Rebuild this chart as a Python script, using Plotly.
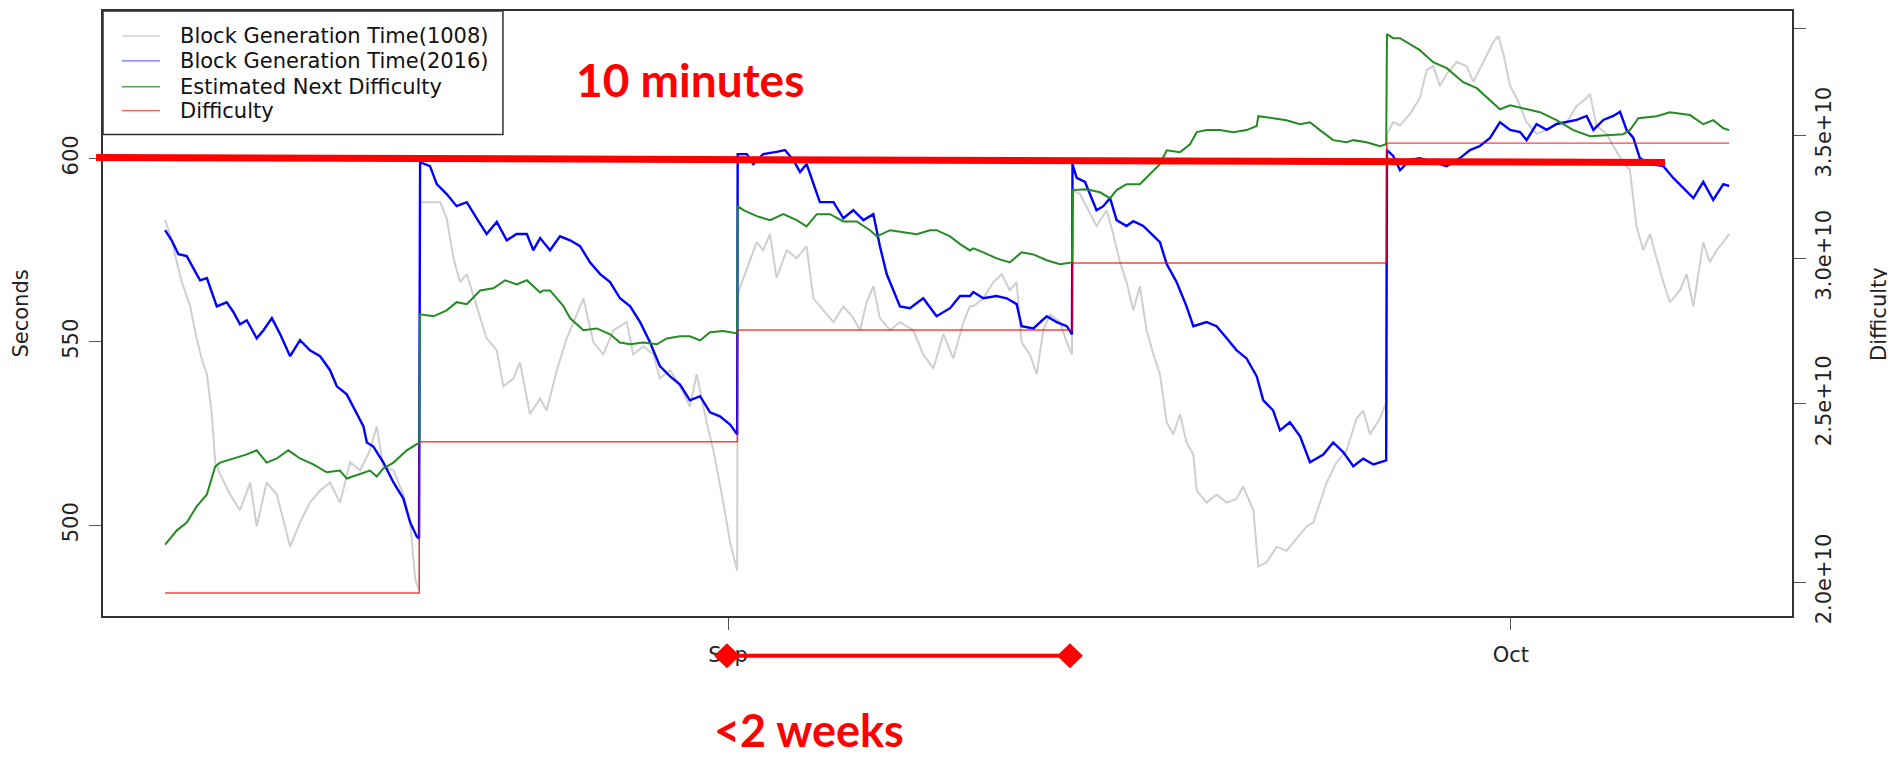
import pandas as pd
import plotly.graph_objects as go

BASE = pd.Timestamp("2014-09-01")

# ---------------- data (x = days relative to 2014-09-01) ----------------
gray_days = [-21.57, -21.38, -21.12, -20.93, -20.61, -20.36, -20.17, -19.97, -19.78, -19.65,
             -19.46, -19.08, -18.70, -18.31, -18.06, -17.68, -17.29, -16.78, -16.40, -16.02,
             -15.63, -15.25, -14.87, -14.48, -14.10, -13.72, -13.46, -13.21, -12.82, -12.44,
             -12.18, -11.99, -11.84, -11.80, -11.42, -11.03, -10.78, -10.52, -10.27, -10.01,
             -9.63, -9.25, -8.86, -8.61, -8.22, -7.97, -7.59, -7.20,
             -6.95, -6.56, -6.18, -5.93, -5.54, -5.16, -4.78, -4.39, -3.88, -3.63,
             -3.24, -2.86, -2.61, -2.22, -1.84, -1.46, -1.20, -0.82, -0.56, -0.18,
             0.08, 0.35, 0.37, 0.59, 1.10, 1.35, 1.61, 1.86, 2.25, 2.63,
             3.01, 3.27, 3.65, 4.04, 4.42, 4.80, 5.06, 5.31, 5.57, 5.82,
             6.21, 6.59, 7.10, 7.48, 7.87, 8.25, 8.63, 9.02, 9.27,
             9.40, 9.78, 10.17, 10.49, 10.80, 11.06, 11.25, 11.57, 11.83, 12.08,
             12.34, 12.72, 12.98, 13.18, 13.20, 13.49, 13.74, 14.12, 14.51, 14.76,
             15.02, 15.27, 15.53, 15.78, 16.04, 16.30, 16.55, 16.81, 17.06, 17.32,
             17.57, 17.83, 17.96, 18.34, 18.72, 19.11, 19.49, 19.74, 20.13, 20.32,
             20.64, 21.02, 21.40, 21.79, 22.17, 22.43, 22.68, 22.94, 23.32, 23.70,
             24.09, 24.34, 24.60, 24.98, 25.22, 25.25, 25.49,
             25.75, 26.13, 26.51, 26.77, 27.02, 27.28, 27.54, 27.92, 28.30, 28.56,
             28.94, 29.33, 29.52, 29.71, 29.97, 30.22, 30.60, 30.98, 31.37, 31.75,
             32.14, 32.52, 32.90, 33.03, 33.28, 33.67, 33.92, 34.30, 34.56, 34.81,
             35.07, 35.33, 35.58, 35.84, 36.09, 36.48, 36.73, 36.99, 37.37, 37.62,
             37.88, 38.14, 38.36]
gray_sec = [583.2, 579.4, 571.7, 566.3, 559.7, 551.0, 545.5, 541.2, 530.3, 517.2,
            513.9, 508.4, 504.1, 511.7, 499.7, 511.7, 508.4, 494.2, 500.8, 506.2,
            509.5, 511.7, 506.2, 517.2, 515.0, 520.4, 527.0, 516.1, 515.0, 508.4,
            500.8, 485.5, 482.2, 588.1, 588.1, 588.1, 583.7, 572.8, 566.3, 568.5,
            559.7, 551.0, 547.7, 537.9, 540.1, 544.4, 530.3, 534.6,
            531.3, 542.3, 551.0, 555.4, 561.9, 549.9, 546.6, 553.2, 555.4, 546.6,
            548.8, 546.6, 540.1, 542.3, 537.9, 532.4, 541.2, 528.1, 520.4, 506.2,
            495.3, 487.7, 563.0, 567.4, 577.2, 575.0, 579.4, 567.4, 575.0, 572.8,
            576.1, 561.9, 558.6, 555.4, 559.7, 556.5, 553.2, 560.8, 565.2, 556.5,
            553.2, 555.4, 553.2, 546.6, 542.8, 552.1, 545.5, 555.4, 559.7,
            559.7, 561.9, 566.3, 568.5, 564.1, 566.3, 549.9, 546.6, 541.2, 553.2,
            557.5, 555.4, 549.9, 546.6, 591.4, 590.3, 587.0, 581.6, 585.9, 579.4,
            571.7, 566.3, 558.6, 565.2, 553.2, 546.6, 541.2, 528.1, 524.8, 530.3,
            522.6, 519.3, 509.5, 506.2, 508.4, 506.2, 507.3, 510.6, 504.1, 488.8,
            489.9, 494.2, 493.1, 496.4, 499.7, 500.8, 506.2, 511.7, 517.2, 520.4,
            529.2, 531.3, 524.8, 529.2, 533.5, 606.7, 609.9,
            609.0, 612.1, 616.5, 624.1, 625.2, 619.8, 623.0, 626.3, 625.2, 620.9,
            626.3, 631.8, 633.4, 628.5, 619.8, 616.5, 609.9, 606.7, 607.8, 609.4,
            609.9, 614.3, 616.5, 617.6, 608.9, 606.7, 603.4, 599.0, 596.8, 581.6,
            575.0, 579.4, 572.8, 566.3, 560.8, 564.1, 568.5, 559.7, 577.2, 571.7,
            575.0, 577.2, 579.4]

blue_days = [-21.57, -21.32, -21.06, -20.74, -20.49, -20.23, -19.97, -19.59, -19.21, -18.95,
             -18.70, -18.44, -18.06, -17.80, -17.48, -17.16, -16.78, -16.40, -16.02, -15.63,
             -15.25, -14.99, -14.61, -14.23, -13.97, -13.84, -13.59, -13.21, -12.82, -12.44,
             -12.18, -11.93, -11.84, -11.80, -11.42, -11.16, -10.78, -10.40, -10.01, -9.63,
             -9.25, -8.86, -8.48, -8.10, -7.71, -7.46, -7.20,
             -6.82, -6.44, -6.05, -5.67, -5.29, -4.90, -4.52, -4.14, -3.75, -3.37,
             -2.99, -2.61, -2.22, -1.84, -1.46, -1.07, -0.69, -0.31, 0.08, 0.35,
             0.37, 0.72, 0.97, 1.35, 1.86, 2.18, 2.50, 2.76, 3.01, 3.27,
             3.52, 4.04, 4.42, 4.80, 5.19, 5.57, 5.82, 6.08, 6.33, 6.59,
             6.97, 7.48, 7.99, 8.51, 8.89, 9.27,
             9.40, 9.78, 10.29, 10.68, 11.06, 11.25, 11.70, 12.21, 12.59, 12.98,
             13.18, 13.20, 13.36, 13.68, 14.12, 14.38, 14.64, 14.89, 15.27, 15.53,
             15.91, 16.30, 16.55, 16.81, 17.19, 17.57, 17.83, 18.34, 18.72, 19.11,
             19.49, 19.87, 20.26, 20.51, 20.89, 21.15, 21.53, 21.92, 22.30, 22.81,
             23.19, 23.58, 23.96, 24.34, 24.73, 25.22, 25.25, 25.49,
             25.75, 26.13, 26.51, 27.02, 27.54, 28.05, 28.43, 28.81, 29.20, 29.58,
             29.97, 30.35, 30.60, 30.98, 31.37, 31.75, 32.14, 32.52, 32.90, 33.16,
             33.54, 33.92, 34.18, 34.43, 34.69, 34.94, 35.33, 35.84, 36.22, 36.60,
             36.99, 37.37, 37.75, 38.14, 38.36]
blue_sec = [580.5, 577.7, 573.9, 573.4, 570.1, 566.8, 567.4, 559.7, 560.8, 558.1,
            554.8, 555.9, 551.0, 553.2, 556.5, 552.1, 546.1, 550.5, 547.7, 546.1,
            542.3, 537.9, 535.7, 530.3, 527.0, 522.6, 521.5, 517.2, 511.7, 507.3,
            500.8, 497.0, 496.4, 599.0, 597.9, 593.0, 590.3, 587.0, 588.1, 583.7,
            579.4, 582.7, 577.7, 579.4, 579.4, 575.0, 578.3,
            575.0, 578.8, 577.7, 576.1, 571.7, 568.5, 566.3, 561.9, 559.7, 555.4,
            549.9, 543.4, 540.6, 538.4, 534.1, 535.2, 530.8, 529.7, 527.5, 524.8,
            601.2, 601.2, 598.5, 601.2, 601.8, 602.3, 599.6, 596.3, 598.5, 593.0,
            588.1, 588.1, 583.7, 585.9, 583.2, 584.8, 576.1, 568.5, 564.1, 559.7,
            559.2, 561.9, 557.0, 559.2, 562.5, 562.5,
            563.6, 561.9, 562.5, 561.9, 560.3, 554.3, 553.7, 557.0, 555.4, 554.3,
            552.1, 598.5, 594.7, 593.6, 585.9, 587.0, 589.2, 583.2, 581.6, 582.9,
            581.6, 578.8, 577.2, 571.2, 566.3, 559.7, 554.3, 555.4, 554.3, 551.0,
            547.7, 545.5, 540.6, 534.1, 531.3, 525.9, 528.1, 524.3, 517.2, 519.3,
            522.6, 519.9, 516.1, 518.2, 516.6, 517.7, 602.3, 600.7,
            596.8, 599.6, 600.1, 599.0, 597.9, 600.1, 602.3, 603.4, 605.6, 609.9,
            607.8, 607.2, 605.0, 609.4, 607.8, 609.4, 609.9, 610.5, 611.6, 607.8,
            610.5, 611.6, 612.7, 607.8, 605.6, 600.1, 598.5, 597.9, 594.7, 591.9,
            589.2, 593.6, 588.7, 593.0, 592.5]

green_days = [-21.57, -21.12, -20.74, -20.36, -19.97, -19.65, -19.46, -18.95, -18.44, -18.06,
              -17.68, -17.29, -16.85, -16.40, -15.89, -15.38, -14.87, -14.61, -14.10, -13.72,
              -13.46, -13.21, -12.82, -12.31, -11.83, -11.80, -11.29, -10.78, -10.40, -10.01,
              -9.50, -8.99, -8.54, -8.10, -7.71, -7.20,
              -7.08, -6.82, -6.31, -6.05, -5.54, -5.03, -4.52, -4.14, -3.75, -3.24,
              -2.73, -2.35, -1.84, -1.46, -1.07, -0.69, -0.18, 0.35, 0.37, 0.59,
              1.10, 1.61, 2.12, 2.63, 3.01, 3.40, 3.91, 4.42, 4.93, 5.44,
              5.70, 6.21, 6.72, 7.23, 7.74, 7.99, 8.51, 8.89, 9.27,
              9.40, 9.78, 10.29, 10.80, 11.25, 11.70, 12.21, 12.72, 13.18, 13.20,
              13.74, 14.25, 14.64, 14.89, 15.27, 15.78, 16.17, 16.55, 16.81, 17.32,
              17.70, 17.96, 18.34, 18.85, 19.36, 19.87, 20.26, 20.32, 20.89, 21.40,
              21.92, 22.30, 22.68, 23.19, 23.70, 23.96, 24.47, 24.98, 25.22, 25.25,
              25.49, 25.75, 26.51, 27.02, 27.54, 28.17, 28.69, 29.20, 29.58, 29.97,
              30.47, 31.11, 31.75, 32.39, 33.03, 33.67, 34.30, 34.56, 34.88, 35.58,
              36.09, 36.86, 37.37, 37.75, 38.14, 38.36]
green_diff_e10 = [2.096, 2.134, 2.155, 2.199, 2.232, 2.312, 2.323, 2.335, 2.347, 2.359,
                  2.323, 2.335, 2.359, 2.335, 2.318, 2.295, 2.300, 2.277, 2.289, 2.300,
                  2.283, 2.306, 2.323, 2.359, 2.382, 2.797, 2.790, 2.811, 2.840, 2.833,
                  2.882, 2.890, 2.919, 2.904, 2.919, 2.875,
                  2.882, 2.882, 2.826, 2.783, 2.742, 2.748, 2.728, 2.700, 2.694, 2.700,
                  2.694, 2.714, 2.721, 2.721, 2.707, 2.735, 2.739, 2.731, 3.203, 3.187,
                  3.163, 3.147, 3.171, 3.147, 3.123, 3.171, 3.171, 3.142, 3.142, 3.108,
                  3.084, 3.108, 3.100, 3.092, 3.108, 3.108, 3.084, 3.054, 3.030,
                  3.038, 3.023, 3.000, 2.985, 3.023, 3.015, 2.993, 2.978, 2.985, 3.268,
                  3.271, 3.259, 3.235, 3.268, 3.292, 3.292, 3.334, 3.376, 3.435, 3.427,
                  3.461, 3.514, 3.523, 3.523, 3.514, 3.523, 3.541, 3.585, 3.576, 3.567,
                  3.549, 3.558, 3.523, 3.479, 3.470, 3.479, 3.470, 3.453, 3.461, 3.973,
                  3.953, 3.953, 3.894, 3.836, 3.807, 3.741, 3.713, 3.658, 3.616, 3.634,
                  3.621, 3.603, 3.567, 3.523, 3.496, 3.501, 3.505, 3.523, 3.576, 3.585,
                  3.603, 3.590, 3.549, 3.567, 3.531, 3.523]

diff_days = [-21.57, -11.83, 0.36, 13.19, 25.24, 38.36]
diff_e10 = [1.9729645940, 2.3844670039, 2.7428630902, 2.9829733124, 3.4661425924, 3.4661425924]

sec_ticks = [500, 550, 600]
diff_ticks_e10 = [2.0, 2.5, 3.0, 3.5, 4.0]
diff_tick_text = ["2.0e+10", "2.5e+10", "3.0e+10", "3.5e+10", ""]
month_tick_days = [0, 30]
month_tick_text = ["Sep", "Oct"]

series_names = ["Block Generation Time(1008)", "Block Generation Time(2016)",
                "Estimated Next Difficulty", "Difficulty"]
series_colors = ["#cfcfcf", "#0000ff", "#228b22", "#ff0000"]
legend_colors = ["#d4d4d4", "#6a6aff", "#52a552", "#ff5c5c"]


def to_dates(days):
    return BASE + pd.to_timedelta(pd.Series(days, dtype=float), unit="D")


FONT = "DejaVu Sans"

fig = go.Figure()
fig.add_trace(go.Scatter(x=to_dates(gray_days), y=gray_sec, mode="lines",
                         line=dict(color=series_colors[0], width=2), name=series_names[0],
                         showlegend=False))
fig.add_trace(go.Scatter(x=to_dates(blue_days), y=blue_sec, mode="lines",
                         line=dict(color=series_colors[1], width=2.4), name=series_names[1],
                         showlegend=False))
fig.add_trace(go.Scatter(x=to_dates(green_days), y=[v * 1e10 for v in green_diff_e10],
                         mode="lines", yaxis="y2",
                         line=dict(color=series_colors[2], width=2), name=series_names[2],
                         showlegend=False))
fig.add_trace(go.Scatter(x=to_dates(diff_days), y=[v * 1e10 for v in diff_e10],
                         mode="lines", yaxis="y2", line_shape="hv",
                         line=dict(color="rgba(255,0,0,0.75)", width=1.4), name=series_names[3],
                         showlegend=False))

x_range = to_dates([-23.95, 40.77])
axis_common = dict(showline=True, linecolor="#333", linewidth=1.5, mirror=True,
                   ticks="outside", ticklen=12, tickcolor="#555", tickwidth=1.3,
                   showgrid=False, zeroline=False,
                   tickfont=dict(family=FONT, size=21, color="#222"))

# the page is shown with the browser's 8px body margin, so the figure is 8px smaller
fig.update_layout(
    width=1887, height=750,
    margin=dict(l=95, r=103, t=1, b=142),
    paper_bgcolor="white", plot_bgcolor="white",
    font=dict(family=FONT, size=21, color="#222"),
    showlegend=False,
    xaxis=dict(type="date", range=list(x_range),
               tickvals=list(to_dates(month_tick_days)), ticktext=month_tick_text,
               ticklabelstandoff=7, **axis_common),
    yaxis=dict(range=[475.3, 640.2], tickvals=sec_ticks, ticktext=[str(t) for t in sec_ticks],
               tickangle=-90, ticklabelstandoff=3, **axis_common),
    yaxis2=dict(overlaying="y", side="right", type="log",
                range=[10.2826, 10.6117],
                tickvals=[v * 1e10 for v in diff_ticks_e10], ticktext=diff_tick_text,
                tickangle=-90, showline=True, linecolor="#333", linewidth=1.5,
                ticks="outside", ticklen=12, tickcolor="#555", tickwidth=1.3,
                showgrid=False, zeroline=False,
                tickfont=dict(family=FONT, size=21, color="#222")),
)

annotations = [
    dict(text="Seconds", x=-0.0491, y=0.5, xref="paper", yref="paper", textangle=-90,
         showarrow=False, font=dict(family=FONT, size=21, color="#222"), borderpad=0,
         xanchor="center", yanchor="middle"),
    dict(text="Difficulty", x=1.0512, y=0.5, xref="paper", yref="paper", textangle=-90,
         showarrow=False, font=dict(family=FONT, size=21, color="#222"), borderpad=0,
         xanchor="center", yanchor="middle"),
    dict(text="<b>10 minutes</b>", x=0.3475, y=0.8863, xref="paper", yref="paper",
         showarrow=False, font=dict(family="Lato", size=46, color="#ff0000"),
         xanchor="center", yanchor="middle"),
    dict(text="<b>&lt;2 weeks</b>", x=0.418, y=-0.2339, xref="paper", yref="paper",
         showarrow=False, font=dict(family="Lato", size=45, color="#ff0000"), borderpad=0,
         xanchor="center", yanchor="bottom"),
]

shapes = [
    # hand-drawn "10 minutes" marker line
    dict(type="line", xref="paper", yref="paper", x0=-0.0041, y0=0.7578, x1=0.9248, y1=0.7496,
         line=dict(color="#ff0000", width=7), layer="above"),
    # "<2 weeks" bracket
    dict(type="line", xref="paper", yref="paper", x0=0.3694, y0=-0.0659, x1=0.5725, y1=-0.0659,
         line=dict(color="#ff0000", width=4), layer="above"),
]
for xp in (0.3694, 0.5725):
    shapes.append(dict(type="path", xref="paper", yref="paper", xsizemode="pixel",
                       ysizemode="pixel", xanchor=xp, yanchor=-0.0659,
                       path="M -13,0 L 0,12.5 L 13,0 L 0,-12.5 Z",
                       fillcolor="#ff0000", line=dict(width=0), layer="above"))

# legend box (top-left, as in R's legend("topleft"))
shapes.append(dict(type="rect", xref="paper", yref="paper", x0=0, x1=0.2368, y0=0.7957, y1=1.0,
                   line=dict(color="#333", width=1.5), fillcolor="white", layer="above"))
row_y = [0.9588, 0.9176, 0.8748, 0.8353]
for name, col, ry in zip(series_names, legend_colors, row_y):
    shapes.append(dict(type="line", xref="paper", yref="paper", x0=0.0112, x1=0.0338,
                       y0=ry, y1=ry, line=dict(color=col, width=1.4), layer="above"))
    annotations.append(dict(text=name, x=0.0444, y=ry, xref="paper", yref="paper",
                            showarrow=False, xanchor="left", yanchor="middle",
                            font=dict(family=FONT, size=21, color="#111")))

fig.update_layout(shapes=shapes, annotations=annotations)
fig.write_html("out.html")
